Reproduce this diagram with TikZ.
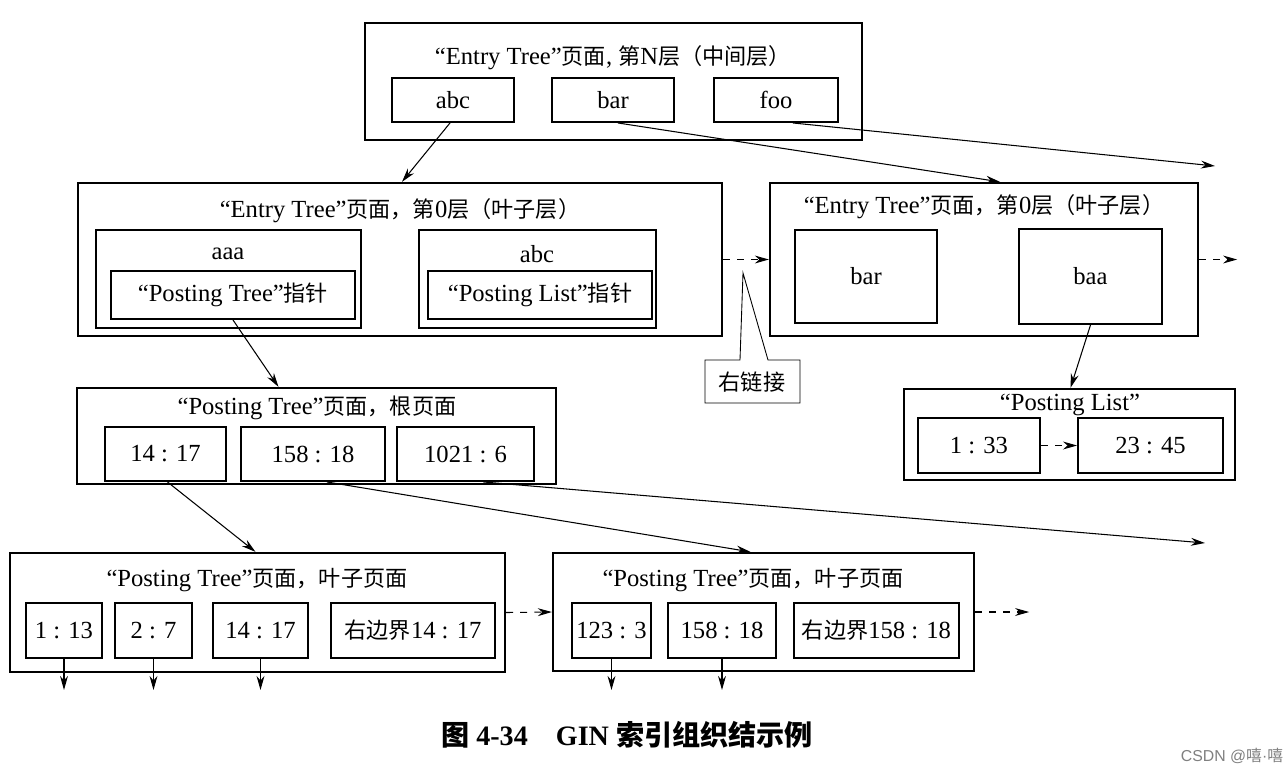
\documentclass[tikz,border=0pt]{standalone}
\usepackage{fontspec}
\setmainfont{Liberation Serif}
\newfontfamily\zhf[Scale=0.9]{Noto Sans CJK SC}
\newfontfamily\zhc{Noto Sans CJK SC}
\newfontfamily\wmf{Liberation Sans}
\newcommand{\zh}[1]{{\zhf #1}}
\usetikzlibrary{arrows.meta,calc,fit}
\begin{document}
\begin{tikzpicture}[x=0.02cm,y=-0.02cm,
  font=\fontsize{14}{16}\selectfont,
  outer/.style={draw, line width=1.3pt, inner sep=0pt},
  inner/.style={draw, line width=1.1pt, inner sep=0pt},
  lab/.style={inner sep=0pt},
  conn/.style={line width=0.6pt, -{Stealth[length=8pt,width=4.5pt]}},
  dconn/.style={conn, dash pattern=on 4pt off 4pt}]
\fill[white] (0,0) rectangle (1285,772);
\useasboundingbox (0,0) rectangle (1285,772);

% top: entry tree level N
\node[outer, fit={(365,23) (862,140)}] (top) {};
\node[lab] (toptitle) at (613,58) {“Entry Tree”\zh{页面}, \zh{第}N\zh{层（中间层）}};
\node[inner, fit={(392,78) (514,122)}] (tabc) {};
\node[lab] (tabct) at (tabc.center) {abc};
\node[inner, fit={(552,78) (674,122)}] (tbar) {};
\node[lab] (tbart) at (tbar.center) {bar};
\node[inner, fit={(714,78) (838,122)}] (tfoo) {};
\node[lab] (tfoot) at (tfoo.center) {foo};

% level 0 left
\node[outer, fit={(78,183) (722,336)}] (l0) {};
\node[lab] (l0title) at (400,211) {“Entry Tree”\zh{页面，第}0\zh{层（叶子层）}};
\node[inner, fit={(96,230) (361,328)}] (aaa) {};
\node[lab] (aaatext) at (228,254) {aaa};
\node[inner, fit={(111,271) (355,319)}] (ptr) {};
\node[lab] (ptrt) at (ptr.center) {“Posting Tree”\zh{指针}};
\node[inner, fit={(419,230) (656,328)}] (labc) {};
\node[lab] (labctext) at (537,254) {abc};
\node[inner, fit={(428,271) (652,319)}] (plptr) {};
\node[lab] (plptrt) at (plptr.center) {“Posting List”\zh{指针}};

% level 0 right
\node[outer, fit={(770,183) (1198,336)}] (r0) {};
\node[lab] (r0title) at (984,207) {“Entry Tree”\zh{页面，第}0\zh{层（叶子层）}};
\node[inner, fit={(795,230) (937,323)}] (rbar) {};
\node[lab] (rbart) at (rbar.center) {bar};
\node[inner, fit={(1019,229) (1162,324)}] (rbaa) {};
\node[lab] (rbaat) at (rbaa.center) {baa};

% callout
\draw[line width=0.5pt] (740,360) -- (705,360) -- (705,403) -- (800,403) -- (800,360) -- (768,360) -- (743,273) -- cycle;
\node[lab] (rlink) at (752,382) {\zh{右链接}};

% posting list
\node[outer, fit={(904,389) (1235,480)}] (pl) {};
\node[lab] (pltitle) at (1070,405) {“Posting List”};
\node[inner, fit={(918,418) (1040,473)}] (pl1) {};
\node[lab] (pl1t) at (pl1.center) {1 : 33};
\node[inner, fit={(1078,418) (1223,473)}] (pl2) {};
\node[lab] (pl2t) at (pl2.center) {23 : 45};

% posting tree root
\node[outer, fit={(77,388) (556,484)}] (root) {};
\node[lab] (roottitle) at (317,408) {“Posting Tree”\zh{页面，根页面}};
\node[inner, fit={(105,427) (226,481)}] (rt1) {};
\node[lab] (rt1t) at (rt1.center) {14 : 17};
\node[inner, fit={(241,427) (385,481)}] (rt2) {};
\node[lab] (rt2t) at (rt2.center) {158 : 18};
\node[inner, fit={(397,427) (534,481)}] (rt3) {};
\node[lab] (rt3t) at (rt3.center) {1021 : 6};

% posting tree leaf left
\node[outer, fit={(10,553) (505,672)}] (bl) {};
\node[lab] (bltitle) at (257,580) {“Posting Tree”\zh{页面，叶子页面}};
\node[inner, fit={(26,603) (102,658)}] (b1) {};
\node[lab] (b1t) at (b1.center) {1 : 13};
\node[inner, fit={(115,603) (192,658)}] (b2) {};
\node[lab] (b2t) at (b2.center) {2 : 7};
\node[inner, fit={(213,603) (308,658)}] (b3) {};
\node[lab] (b3t) at (b3.center) {14 : 17};
\node[inner, fit={(331,603) (495,658)}] (b4) {};
\node[lab] (b4t) at (b4.center) {\zh{右边界}14 : 17};

% posting tree leaf right
\node[outer, fit={(553,553) (974,671)}] (br) {};
\node[lab] (brtitle) at (753,580) {“Posting Tree”\zh{页面，叶子页面}};
\node[inner, fit={(572,603) (651,658)}] (c1) {};
\node[lab] (c1t) at (c1.center) {123 : 3};
\node[inner, fit={(668,603) (776,658)}] (c2) {};
\node[lab] (c2t) at (c2.center) {158 : 18};
\node[inner, fit={(794,603) (959,658)}] (c3) {};
\node[lab] (c3t) at (c3.center) {\zh{右边界}158 : 18};

% free ends
\coordinate (fooend) at (1215,166);
\coordinate (r0end) at ($(r0.east)+(38,0)$);
\coordinate (rt3end) at (1205,543);
\coordinate (brend) at ($(br.east)+(54,0)$);
\coordinate (b1end) at ($(b1.south)+(0,31)$);
\coordinate (b2end) at ($(b2.south)+(0,31)$);
\coordinate (b3end) at ($(b3.south)+(0,31)$);
\coordinate (c1end) at ($(c1.south)+(0,31)$);
\coordinate (c2end) at ($(c2.south)+(0,31)$);

% connectors
\draw[conn] ($(tabc.south)+(-3,0)$) -- ($(l0.north)+(2,0)$);
\draw[conn] ($(tbar.south)+(5,0)$) -- ($(r0.north)+(16,0)$);
\draw[conn] ($(tfoo.south)+(17,0)$) -- (fooend);
\draw[dconn] (l0.east) -- (r0.west);
\draw[dconn] (r0.east) -- (r0end);
\draw[conn] (ptr.south) -- ($(root.north)+(-38,0)$);
\draw[conn] (rbaa.south) -- ($(pl.north)+(1,0)$);
\draw[dconn] (pl1.east) -- (pl2.west);
\draw[conn] ($(rt1.south)+(2,0)$) -- ($(bl.north)+(-2,0)$);
\draw[conn] ($(rt2.south)+(14,0)$) -- ($(br.north)+(-13,0)$);
\draw[conn] ($(rt3.south)+(18,0)$) -- (rt3end);
\draw[dconn] (bl.east) -- (br.west);
\draw[dconn] (br.east) -- (brend);
\draw[conn] (b1.south) -- (b1end);
\draw[conn] (b2.south) -- (b2end);
\draw[conn] (b3.south) -- (b3end);
\draw[conn] (c1.south) -- (c1end);
\draw[conn] (c2.south) -- (c2end);

% caption and watermark
\node[lab, font=\fontsize{16}{18}\selectfont\bfseries] (cap) at (627,735) {{\zhc 图} 4-34\hspace{16pt}GIN {\zhc 索引组织结示例}};
\node[lab, font=\fontsize{9}{10}\selectfont, text=gray] (wm) at (1232,756) {{\wmf CSDN @}{\zhc 嘻}{\wmf ·}{\zhc 嘻}};
\end{tikzpicture}
\end{document}
